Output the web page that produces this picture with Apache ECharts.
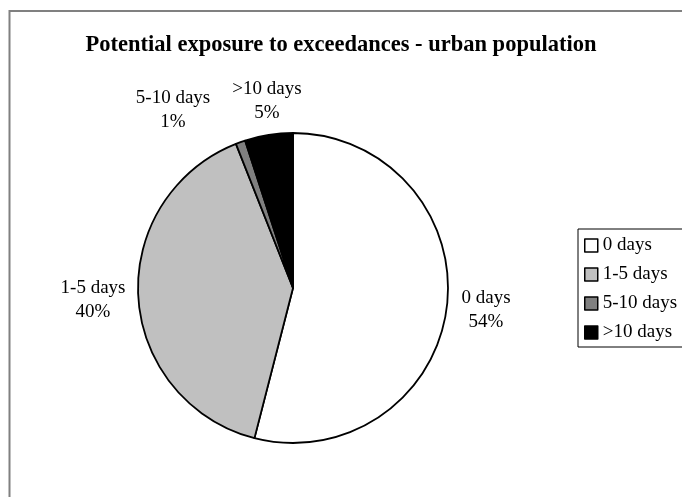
<!DOCTYPE html>
<html>
<head>
<meta charset="utf-8">
<script src="https://cdn.jsdelivr.net/npm/echarts@6/dist/echarts.min.js"></script>
<style>
  html, body { margin: 0; padding: 0; background: #fff; }
  #chart { width: 682px; height: 497px; }
</style>
</head>
<body>
<div id="chart"></div>
<script>
// Share of urban population by number of exceedance days
const categories = ['0 days', '1-5 days', '5-10 days', '>10 days'];
const shares = [54, 40, 1, 5];
const sliceColors = ['#FFFFFF', '#C0C0C0', '#808080', '#000000'];
// Where each slice label sits (label centre, px)
const labelSpots = [[486, 310], [93, 300], [173, 110], [267, 101]];

const serif = '"Liberation Serif", "Times New Roman", serif';

const chart = echarts.init(document.getElementById('chart'), null, { renderer: 'canvas' });

chart.setOption({
  animation: false,
  backgroundColor: '#fff',
  title: {
    text: 'Potential exposure to exceedances - urban population',
    left: 'center',
    top: 29,
    textStyle: { fontFamily: serif, fontSize: 22.5, fontWeight: 'bold', color: '#000' }
  },
  graphic: [{
    type: 'rect',
    shape: { x: 9.5, y: 11, width: 720, height: 520 },
    style: { fill: null, stroke: '#808080', lineWidth: 2 },
    silent: true
  }],
  legend: {
    orient: 'vertical',
    left: 578,
    top: 229,
    padding: [7, 20, 5, 6],
    itemWidth: 13,
    itemHeight: 13,
    itemGap: 10,
    icon: 'rect',
    borderColor: '#000',
    borderWidth: 1,
    itemStyle: { borderColor: '#000', borderWidth: 1.5 },
    textStyle: { fontFamily: serif, fontSize: 19, color: '#000' },
    data: categories
  },
  series: [{
    type: 'pie',
    center: [293, 288],
    radius: 155,
    startAngle: 90,
    clockwise: true,
    avoidLabelOverlap: false,
    itemStyle: { borderColor: '#000', borderWidth: 1.8 },
    label: {
      show: true,
      position: 'outside',
      formatter: '{b}\n{d}%',
      fontFamily: serif,
      fontSize: 19,
      lineHeight: 24,
      color: '#000',
      align: 'center'
    },
    labelLine: { show: false },
    labelLayout: function (params) {
      const p = labelSpots[params.dataIndex];
      return { x: p[0], y: p[1], align: 'center', verticalAlign: 'middle' };
    },
    emphasis: { disabled: true },
    data: categories.map((name, i) => ({
      name: name,
      value: shares[i],
      itemStyle: { color: sliceColors[i] }
    }))
  }]
});
</script>
</body>
</html>
